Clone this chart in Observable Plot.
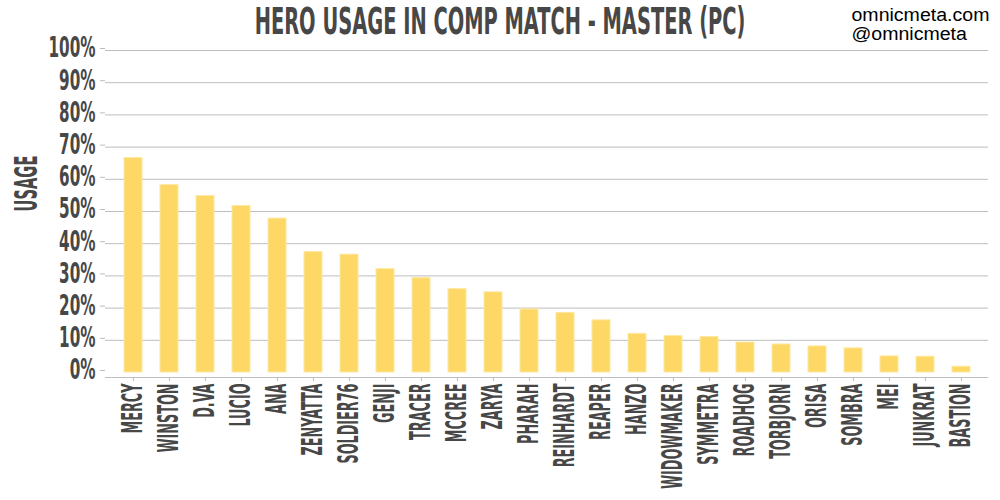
<!DOCTYPE html>
<html>
<head>
<meta charset="utf-8">
<script src="https://cdn.jsdelivr.net/npm/d3@7"></script>
<script src="https://cdn.jsdelivr.net/npm/@observablehq/plot@0.6"></script>
<style>
  body { margin: 0; background: #fff; }
  #chart { width: 1000px; height: 500px; }
</style>
</head>
<body>
<div id="chart"></div>
<script>
const heroes = ["MERCY","WINSTON","D.VA","LUCIO","ANA","ZENYATTA","SOLDIER76","GENJI","TRACER","MCCREE","ZARYA","PHARAH","REINHARDT","REAPER","HANZO","WIDOWMAKER","SYMMETRA","ROADHOG","TORBJORN","ORISA","SOMBRA","MEI","JUNKRAT","BASTION"];
const usage = [0.666,0.582,0.548,0.517,0.478,0.374,0.366,0.321,0.293,0.259,0.249,0.196,0.185,0.162,0.120,0.113,0.110,0.093,0.087,0.081,0.075,0.050,0.049,0.018];
const yTicks = [0,0.1,0.2,0.3,0.4,0.5,0.6,0.7,0.8,0.9,1.0];
const titleText = "HERO USAGE IN COMP MATCH - MASTER (PC)";
const yLabelText = "USAGE";
const credits = ["omnicmeta.com", "@omnicmeta"];

const data = heroes.map((h, i) => ({hero: h, usage: usage[i]}));
const DISPLAY = "'Liberation Sans Narrow','DejaVu Sans Condensed','DejaVu Sans',sans-serif";
const INK = "#474747";
const GRID = "#bdbdbd";

const chart = Plot.plot({
  width: 1000,
  height: 500,
  marginTop: 50,
  marginBottom: 123,
  marginLeft: 105,
  marginRight: 12,
  style: {fontFamily: DISPLAY, background: "#fff", overflow: "visible"},
  x: {domain: heroes, paddingInner: 0.5, paddingOuter: 0.395, label: null},
  y: {domain: [0, 1], insetBottom: 5, label: null},
  marks: [
    Plot.gridY(yTicks.filter(d => d > 0), {stroke: GRID, strokeOpacity: 1, strokeWidth: 1}),
    Plot.ruleY([0], {dy: 5, stroke: GRID, strokeWidth: 1.2}),
    Plot.barY(data, {x: "hero", y: "usage", fill: "#fdd866", stroke: "#fee8a2", strokeWidth: 1}),
    Plot.axisY(yTicks, {
      tickFormat: d => Math.round(d * 100) + "%",
      tickSize: 5, tickPadding: 5, fontSize: 28, fontWeight: "bold",
      fill: INK, stroke: GRID, label: null, dy: -2
    }),
    Plot.axisX({
      tickRotate: -90, tickSize: 4, tickPadding: 2, fontSize: 28, fontWeight: "bold",
      fill: INK, stroke: GRID, label: null
    }),
    Plot.text([titleText], {
      frameAnchor: "top", lineAnchor: "bottom", dx: -47, dy: -17,
      fontSize: 37, fontWeight: "bold", fill: INK
    }),
    Plot.text([yLabelText], {
      frameAnchor: "left", rotate: -90, dx: -79, dy: -2.5,
      fontSize: 32, fontWeight: "bold", fill: INK
    }),
    Plot.text([credits[0]], {
      frameAnchor: "top-right", textAnchor: "start", lineAnchor: "bottom",
      dx: -137, dy: -29.5,
      fontSize: 18, fontFamily: "'Liberation Sans',Arial,sans-serif", fill: "#000"
    }),
    Plot.text([credits[1]], {
      frameAnchor: "top-right", textAnchor: "start", lineAnchor: "bottom",
      dx: -137, dy: -11,
      fontSize: 18, fontFamily: "'Liberation Sans',Arial,sans-serif", fill: "#000"
    })
  ]
});

document.getElementById("chart").appendChild(chart);

// Condense display text along its reading direction to mimic the narrow titling face
function condense(nodes, f) {
  nodes.forEach(t => {
    let tr = t.getAttribute("transform");
    if (!tr) {
      const x = t.getAttribute("x") || 0, y = t.getAttribute("y") || 0;
      t.removeAttribute("x"); t.removeAttribute("y");
      tr = `translate(${x},${y})`;
    }
    t.setAttribute("transform", tr + ` scale(${f},1)`);
  });
}
function factorFor(nodes, sample, target) {
  const n = nodes.find(t => t.textContent === sample) || nodes[0];
  const L = n.getComputedTextLength();
  return L > 0 ? target / L : 1;
}
const texts = Array.from(chart.querySelectorAll("text"));
const xLabels = texts.filter(t => heroes.includes(t.textContent));
const yLabels = texts.filter(t => /%$/.test(t.textContent));
const titleNodes = texts.filter(t => t.textContent === titleText);
const usageNodes = texts.filter(t => t.textContent === yLabelText);
const creditNodes = texts.filter(t => credits.includes(t.textContent));

condense(xLabels, factorFor(xLabels, "MERCY", 50));
condense(yLabels, factorFor(yLabels, "100%", 47));
condense(titleNodes, factorFor(titleNodes, titleText, 491));
condense(usageNodes, factorFor(usageNodes, yLabelText, 56));
condense(creditNodes, factorFor(creditNodes, credits[0], 138));
</script>
</body>
</html>
